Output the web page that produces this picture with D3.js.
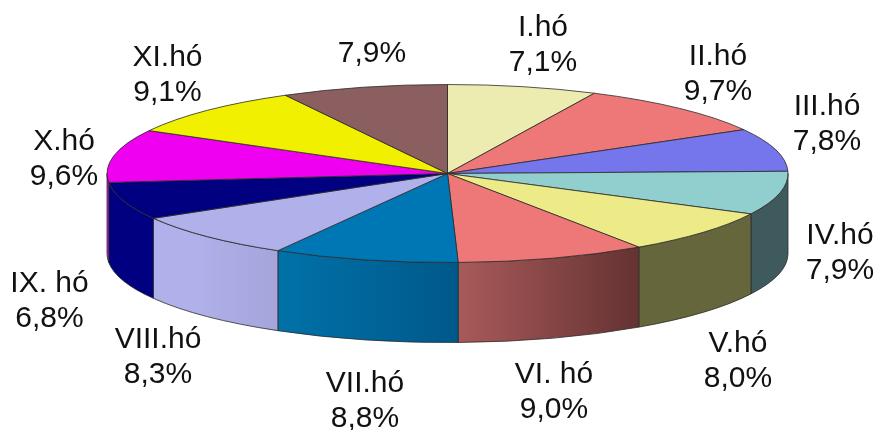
<!DOCTYPE html>
<html>
<head>
<meta charset="utf-8">
<script src="https://cdn.jsdelivr.net/npm/d3@7"></script>
<style>
html, body { margin: 0; padding: 0; background: #fff; }
svg { display: block; filter: blur(0.4px); }
</style>
</head>
<body>
<div id="pie_chart"></div>
<script>
// Chart data
var months = ['I.hó', 'II.hó', 'III.hó', 'IV.hó', 'V.hó', 'VI. hó', 'VII.hó', 'VIII.hó', 'IX. hó', 'X.hó', 'XI.hó', ''];
var shares = [7.1, 9.7, 7.8, 7.9, 8.0, 9.0, 8.8, 8.3, 6.8, 9.6, 9.1, 7.9];

// Slice colours: top face, then wall gradient left and right
var topColors = ['#ececb1', '#ee7777', '#7575ec', '#91cfcf', '#edeb87', '#ee7777', '#0077b5', '#b0b0ea', '#000080', '#f000f0', '#f0f000', '#8b5f5f'];
var wallLeft = ['#ececb1', '#ee7777', '#7575ec', '#3f5a5c', '#66663c', '#a85a5a', '#0072a8', '#b0b0ea', '#000080', '#f000f0', '#f0f000', '#8b5f5f'];
var wallRight = ['#ececb1', '#ee7777', '#7575ec', '#3f5a5c', '#66663c', '#653232', '#00588a', '#a5a5dc', '#000080', '#f000f0', '#f0f000', '#8b5f5f'];

// Label centres, first line baseline
var labelX = [543, 718, 827, 840, 738, 554, 365, 158, 49.5, 64, 167.5, 372];
var labelY = [36, 64.5, 115, 243.5, 352, 383, 392, 347.5, 292, 149.5, 66, 62];

var svgwidth = 878;
var svgheight = 430;
var depth = 80;
var rx = 340.5;
var ry = 89;
var cx = 447.5;
var cy = 173.5;

var svg = d3.select('#pie_chart')
    .append('svg')
    .attr('width', svgwidth)
    .attr('height', svgheight)
    .attr('viewBox', '0 0 878 430');

// unit circle to screen
var xScale = d3.scaleLinear().domain([-1, 1]).range([cx - rx, cx + rx]);
var yScale = d3.scaleLinear().domain([-1, 1]).range([cy - ry, cy + ry]);

var px = function(a) { return xScale(Math.sin(a)); };
var py = function(a) { return yScale(-Math.cos(a)); };

var slices = d3.pie().sort(null).value(function(d) { return d; })(shares);

function topPath(d) {
    var large = d.endAngle - d.startAngle > Math.PI ? 1 : 0;
    return 'M' + cx + ',' + cy +
        'L' + px(d.startAngle) + ',' + py(d.startAngle) +
        'A' + rx + ',' + ry + ' 0 ' + large + ' 1 ' + px(d.endAngle) + ',' + py(d.endAngle) + 'Z';
}

function wallPath(d) {
    // only the front half of the rim can be seen
    var a0 = Math.max(d.startAngle, Math.PI / 2);
    var a1 = Math.min(d.endAngle, Math.PI * 1.5);
    if (a1 <= a0) return null;
    return 'M' + px(a0) + ',' + py(a0) +
        'A' + rx + ',' + ry + ' 0 0 1 ' + px(a1) + ',' + py(a1) +
        'L' + px(a1) + ',' + (py(a1) + depth) +
        'A' + rx + ',' + ry + ' 0 0 0 ' + px(a0) + ',' + (py(a0) + depth) + 'Z';
}

// wall gradients
var defs = svg.append('defs');
slices.forEach(function(d, i) {
    var g = defs.append('linearGradient')
        .attr('id', 'wall' + i)
        .attr('x1', 0).attr('x2', 1).attr('y1', 0).attr('y2', 0);
    g.append('stop').attr('offset', '0%').attr('stop-color', wallLeft[i]);
    g.append('stop').attr('offset', '35%').attr('stop-color', i === 7 ? wallLeft[i] : d3.interpolateRgb(wallLeft[i], wallRight[i])(0.35));
    g.append('stop').attr('offset', '100%').attr('stop-color', wallRight[i]);
});

svg.append('g')
    .selectAll('path')
    .data(slices)
    .join('path')
    .attr('d', wallPath)
    .attr('fill', function(d, i) { return 'url(#wall' + i + ')'; })
    .attr('stroke', '#2a2a2a')
    .attr('stroke-opacity', 0.8)
    .attr('stroke-width', 1);

svg.append('g')
    .selectAll('path')
    .data(slices)
    .join('path')
    .attr('d', topPath)
    .attr('fill', function(d, i) { return topColors[i]; })
    .attr('stroke', '#2a2a2a')
    .attr('stroke-opacity', 0.8)
    .attr('stroke-width', 1)
    .attr('stroke-linejoin', 'round');

// labels
var labels = svg.append('g')
    .selectAll('text')
    .data(shares)
    .join('text')
    .attr('text-anchor', 'middle')
    .style('font-family', "'Liberation Sans', sans-serif")
    .style('font-size', '30px')
    .style('fill', '#111');

labels.append('tspan')
    .attr('x', function(d, i) { return labelX[i]; })
    .attr('y', function(d, i) { return labelY[i]; })
    .text(function(d, i) { return months[i]; });

labels.append('tspan')
    .attr('x', function(d, i) { return labelX[i]; })
    .attr('y', function(d, i) { return months[i] ? labelY[i] + 35 : labelY[i]; })
    .text(function(d) { return d.toFixed(1).replace('.', ',') + '%'; });
</script>
</body>
</html>
